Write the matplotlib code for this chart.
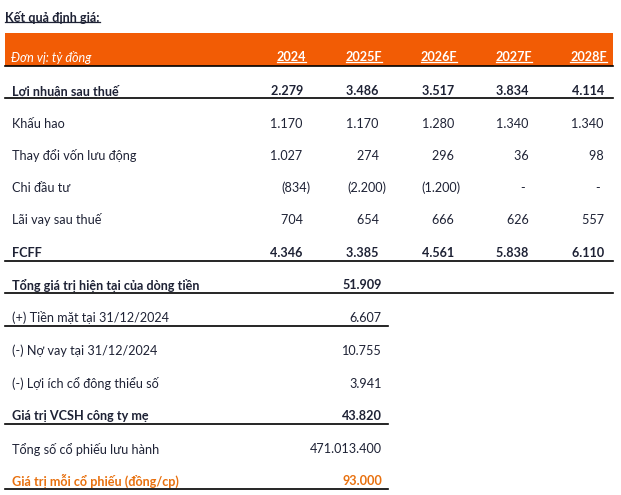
import matplotlib.pyplot as plt
from matplotlib.patches import Rectangle

years = ['2024', '2025F', '2026F', '2027F', '2028F']
flow_labels = ['Lợi nhuận sau thuế', 'Khấu hao', 'Thay đổi vốn lưu động',
               'Chi đầu tư', 'Lãi vay sau thuế', 'FCFF']
loi_nhuan = [2279, 3486, 3517, 3834, 4114]
khau_hao = [1170, 1170, 1280, 1340, 1340]
von_luu_dong = [1027, 274, 296, 36, 98]
chi_dau_tu = [-834, -2200, -1200, 0, 0]
lai_vay = [704, 654, 666, 626, 557]
fcff = [4346, 3385, 4561, 5838, 6110]
flow_values = [loi_nhuan, khau_hao, von_luu_dong, chi_dau_tu, lai_vay, fcff]
flow_bold = [True, False, False, False, False, True]

sum_labels = ['Tổng giá trị hiện tại của dòng tiền', '(+) Tiền mặt tại 31/12/2024',
              '(-) Nợ vay tại 31/12/2024', '(-) Lợi ích cổ đông thiểu số',
              'Giá trị VCSH công ty mẹ', 'Tổng số cổ phiếu lưu hành',
              'Giá trị mỗi cổ phiếu (đồng/cp)']
sum_values = [51909, 6607, 10755, 3941, 43820, 471013400, 93000]
sum_bold = [True, False, False, False, True, False, True]

ORANGE = '#F25C05'
TEXT = '#1E2235'
FONT = 'Lato'
FS = 9.1


def fmt(v):
    if v == 0:
        return '-  '
    s = f'{abs(v):,}'.replace(',', '.')
    return f'({s})' if v < 0 else s + ' '


fig = plt.figure(figsize=(6.21, 4.95), dpi=100)
ax = fig.add_axes([0, 0, 1, 1])
ax.set_xlim(0, 621)
ax.set_ylim(495, 0)
ax.axis('off')

underlined = []

t = ax.text(5, 17, 'Kết quả định giá:', fontsize=FS, fontweight='bold',
            color=TEXT, family=FONT, va='center')
underlined.append((t, TEXT))

# header band
ax.add_patch(Rectangle((5, 33), 608, 33, color=ORANGE, lw=0))
ax.plot([5, 613], [66, 66], color='black', lw=1.2)
ax.text(11, 58, 'Đơn vị: tỷ đồng', fontsize=FS, style='italic', color='white',
        family=FONT, va='center')
col_x = [306, 382, 457, 532, 607]
for x, yr in zip(col_x, years):
    t = ax.text(x, 57, yr, fontsize=FS, fontweight='bold', color='white',
                family=FONT, va='center', ha='right')
    underlined.append((t, 'white'))

flow_y = [91, 124, 156, 188, 220, 253]
for y, lab, vals, b in zip(flow_y, flow_labels, flow_values, flow_bold):
    w = 'bold' if b else 'normal'
    ax.text(12, y, lab, fontsize=FS, fontweight=w, color=TEXT, family=FONT, va='center')
    for x, v in zip(col_x, vals):
        s = fmt(v)
        ax.text(x + (4 if s.endswith(')') else 0), y, s, fontsize=FS, fontweight=w,
                color=TEXT, family=FONT, va='center', ha='right')
ax.plot([5, 613], [98, 98], color='black', lw=1.2)
ax.plot([5, 613], [261, 261], color='black', lw=1.2)

sum_y = [285, 318, 351, 384, 416, 449, 481]
for i, (y, lab, v, b) in enumerate(zip(sum_y, sum_labels, sum_values, sum_bold)):
    w = 'bold' if b else 'normal'
    c = '#E8700E' if i == len(sum_labels) - 1 else TEXT
    ax.text(12, y, lab, fontsize=FS, fontweight=w, color=c, family=FONT, va='center')
    ax.text(col_x[1], y, f'{v:,}'.replace(',', '.'), fontsize=FS, fontweight=w,
            color=c, family=FONT, va='center', ha='right')
ax.plot([5, 613], [293, 293], color='black', lw=1.2)
for y in [326, 424, 489]:
    ax.plot([5, 388], [y, y], color='black', lw=1.2)

# underline texts
fig.canvas.draw()
r = fig.canvas.get_renderer()
inv = ax.transData.inverted()
for t, c in underlined:
    bb = t.get_window_extent(r)
    (x0, y0), (x1, y1) = inv.transform([(bb.x0, bb.y0), (bb.x1, bb.y1)])
    ax.plot([x0, x1], [y0 - 1.5, y0 - 1.5], color=c, lw=0.9)

fig.savefig('out.png', dpi=100)
